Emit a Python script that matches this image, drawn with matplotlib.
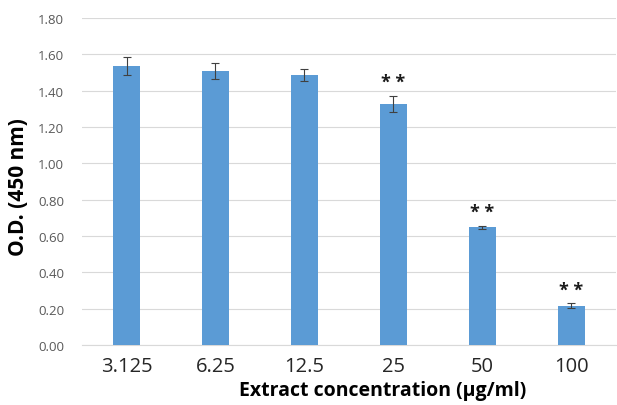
import matplotlib.pyplot as plt

# data
concentrations = ["3.125", "6.25", "12.5", "25", "50", "100"]
od_values = [1.535, 1.508, 1.487, 1.327, 0.649, 0.215]
od_errors = [0.05, 0.046, 0.031, 0.044, 0.008, 0.014]
significance = ["", "", "", "* *", "* *", "* *"]
y_ticks = [0.0, 0.2, 0.4, 0.6, 0.8, 1.0, 1.2, 1.4, 1.6, 1.8]

plt.rcParams['font.family'] = ['Open Sans', 'DejaVu Sans']

fig = plt.figure(figsize=(6.17, 4.06), dpi=100)
ax = fig.add_axes([0.133, 0.148, 0.865, 0.805])

x = list(range(len(concentrations)))
ax.bar(x, od_values, width=0.31, color='#5b9bd5', zorder=3,
       yerr=od_errors, error_kw=dict(ecolor='#404040', elinewidth=0.8, capsize=3, capthick=0.8))

for xi, v, e, s in zip(x, od_values, od_errors, significance):
    if s:
        ax.text(xi, v + e + 0.025, s, ha='center', va='bottom', fontsize=13,
                fontweight='bold', color='#1a1a1a', zorder=4)

ax.set_xlim(-0.5, len(concentrations) - 0.5)
ax.set_ylim(0, 1.8)
ax.set_yticks(y_ticks)
ax.set_yticklabels(["%.2f" % t for t in y_ticks], fontsize=9.5, color='#595959')
ax.set_xticks(x)
ax.set_xticklabels(concentrations, fontsize=14.5, color='#262626')
ax.tick_params(axis='both', length=0)
ax.tick_params(axis='y', pad=13)
ax.tick_params(axis='x', pad=8)

ax.grid(axis='y', color='#d9d9d9', linewidth=0.8, zorder=0)
for side in ['top', 'right', 'left']:
    ax.spines[side].set_visible(False)
ax.spines['bottom'].set_color('#d9d9d9')

ax.set_xlabel("Extract concentration (µg/ml)", fontsize=14, fontweight='bold', labelpad=0)
ax.xaxis.set_label_coords(0.564, -0.108)
ax.set_ylabel("O.D. (450 nm)", fontsize=15, fontweight='bold')
ax.yaxis.set_label_coords(-0.1, 0.486)

plt.savefig('out.png', dpi=100)
